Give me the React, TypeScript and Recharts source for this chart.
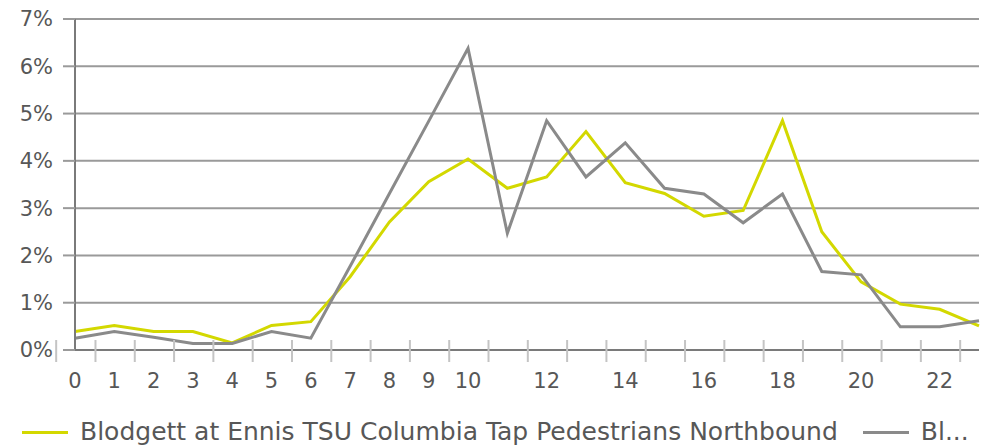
import React from 'react';
import { LineChart, Line, XAxis, YAxis, CartesianGrid, Legend } from 'recharts';

const hours = [0, 1, 2, 3, 4, 5, 6, 7, 8, 9, 10, 11, 12, 13, 14, 15, 16, 17, 18, 19, 20, 21, 22, 23];
const xTickLabels = ['0', '1', '2', '3', '4', '5', '6', '7', '8', '9', '10', '', '12', '', '14', '', '16', '', '18', '', '20', '', '22', ''];
const yTicks = [0, 1, 2, 3, 4, 5, 6, 7];

const northbound = [0.39, 0.52, 0.39, 0.39, 0.15, 0.52, 0.6, 1.55, 2.71, 3.56, 4.04, 3.42, 3.66, 4.62, 3.54, 3.31, 2.83, 2.95, 4.85, 2.5, 1.44, 0.97, 0.86, 0.51];
const otherSeries = [0.25, 0.39, 0.27, 0.14, 0.14, 0.39, 0.25, 1.77, 3.31, 4.84, 6.38, 2.47, 4.85, 3.66, 4.38, 3.42, 3.3, 2.69, 3.3, 1.66, 1.59, 0.49, 0.49, 0.62];

const seriesNames = ['Blodgett at Ennis TSU Columbia Tap Pedestrians Northbound', 'Bl...'];
const seriesColors = ['#d3d800', '#8a8a8a'];

const data = hours.map((h, i) => ({ hour: h, a: northbound[i], b: otherSeries[i] }));

const textColor = '#575757';

const HourTick = (props: any) => {
  const { x, y, payload, index } = props;
  const half = payload && payload.offset ? payload.offset : 904 / 24 / 2;
  const label = xTickLabels[index] ?? '';
  return (
    <g>
      <line x1={x - half} x2={x - half} y1={y - 10} y2={y + 12} stroke="#c4c4c4" strokeWidth={2} />
      {index === hours.length - 1 && (
        <line x1={x + half} x2={x + half} y1={y - 10} y2={y + 12} stroke="#c4c4c4" strokeWidth={2} />
      )}
      <text x={x} y={y + 38} textAnchor="middle" fill={textColor} fontSize={21}>
        {label}
      </text>
    </g>
  );
};

const LegendContent = () => (
  <div style={{ height: 58, display: 'flex', alignItems: 'flex-end', paddingLeft: 22, paddingBottom: 4, boxSizing: 'border-box' }}>
    {seriesNames.map((name, i) => (
      <div key={name} style={{ display: 'flex', alignItems: 'center', marginRight: 25, lineHeight: '24px' }}>
        <span style={{ display: 'inline-block', width: 46, height: 3, background: seriesColors[i], marginRight: 12 }} />
        <span style={{ fontSize: 25, color: textColor, whiteSpace: 'nowrap' }}>{name}</span>
      </div>
    ))}
  </div>
);

const App = () => {
  return (
    <div style={{ position: 'absolute', left: 0, top: 0, width: 989, height: 448, background: '#fff', fontFamily: '"DejaVu Sans", sans-serif' }}>
      <LineChart width={989} height={448} data={data} margin={{ top: 19, right: 10, left: 0, bottom: 0 }}>
        <CartesianGrid vertical={false} stroke="#9a9a9a" strokeWidth={2} />
        <XAxis
          dataKey="hour"
          type="category"
          interval={0}
          height={40}
          tickLine={false}
          tickSize={0}
          tickMargin={0}
          axisLine={{ stroke: '#7a7a7a', strokeWidth: 2 }}
          tick={<HourTick />}
        />
        <YAxis
          width={75}
          domain={[0, 7]}
          ticks={yTicks}
          interval={0}
          tickFormatter={(v: number) => `${v}%`}
          tickSize={12}
          tickMargin={10}
          tickLine={{ stroke: '#9a9a9a', strokeWidth: 2 }}
          axisLine={{ stroke: '#7a7a7a', strokeWidth: 2 }}
          tick={{ fill: textColor, fontSize: 21 }}
        />
        <Legend verticalAlign="bottom" height={58} content={<LegendContent />} />
        <Line type="linear" dataKey="a" name={seriesNames[0]} stroke={seriesColors[0]} strokeWidth={3} dot={false} activeDot={false} isAnimationActive={false} />
        <Line type="linear" dataKey="b" name={seriesNames[1]} stroke={seriesColors[1]} strokeWidth={3} dot={false} activeDot={false} isAnimationActive={false} />
      </LineChart>
    </div>
  );
};

export default App;
